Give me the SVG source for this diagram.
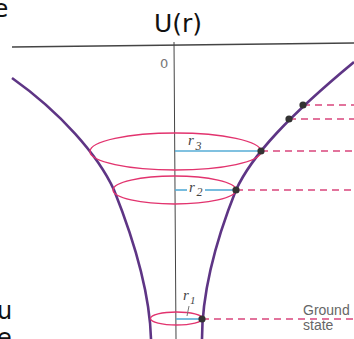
<svg xmlns="http://www.w3.org/2000/svg" width="354" height="339" viewBox="0 0 354 339">
<style>
.big{font-family:"DejaVu Sans",sans-serif;fill:#111}
.axis{stroke:#444;fill:none}
.curve{stroke:#5e3585;stroke-width:2.6;fill:none}
.ell{stroke:#e2336e;stroke-width:1.3;fill:none}
.rad{stroke:#56acd6;stroke-width:1.6}
.dash{stroke:#d9457c;stroke-width:1.5;stroke-dasharray:7 5}
.dot{fill:#333}
.rl{font-family:"Liberation Serif",serif;font-style:italic;fill:#444}
.gs{font-family:"Liberation Sans",Arial,sans-serif;font-size:14px;fill:#666}
</style>
<rect width="354" height="339" fill="#fff"/>
<text class="big" x="-7" y="17" font-size="25">e</text>
<text class="big" x="-3" y="319" font-size="24">u</text>
<text class="big" x="-3" y="346" font-size="24">e</text>
<g id="axes">
<line class="axis" x1="12" y1="47" x2="354" y2="43" stroke-width="1.5"/>
<line class="axis" x1="174" y1="42" x2="176" y2="339" stroke-width="1"/>
<text class="big" x="154" y="32" font-size="25">U(r)</text>
<text x="160" y="68" font-family="DejaVu Sans,sans-serif" font-size="13" fill="#777">0</text>
</g>
<g id="connectors">
<line class="dash" x1="303" y1="105" x2="354" y2="105"/>
<line class="dash" x1="289" y1="119" x2="354" y2="119"/>
<line class="dash" x1="261" y1="151" x2="354" y2="151"/>
<line class="dash" x1="236" y1="190" x2="354" y2="190"/>
<line class="dash" x1="202" y1="319" x2="354" y2="319"/>
</g>
<g id="potential">
<path class="curve" d="M202,339 C202,300 212,250 236,190 C252,155 290,115 354,62"/>
<path class="curve" d="M151,339 C150,300 138,250 114,190 C98,155 60,112 12,78"/>
</g>
<g id="level3">
<ellipse class="ell" cx="175.5" cy="151.5" rx="85.5" ry="18.5"/>
<line class="rad" x1="175" y1="151" x2="261" y2="151"/>
<text class="rl" x="188" y="145" font-size="15">r</text>
<text class="rl" x="195.5" y="150" font-size="12" font-style="normal">3</text>
<circle class="dot" cx="261" cy="151" r="3.6"/>
</g>
<g id="level2">
<ellipse class="ell" cx="174.5" cy="190" rx="61.5" ry="14"/>
<line class="rad" x1="175" y1="190" x2="187" y2="190"/>
<line class="rad" x1="205" y1="190" x2="236" y2="190"/>
<text class="rl" x="189" y="192" font-size="15">r</text>
<text class="rl" x="196.5" y="196" font-size="12" font-style="normal">2</text>
<circle class="dot" cx="236" cy="190" r="3.6"/>
</g>
<g id="level1">
<ellipse class="ell" cx="176.5" cy="318.5" rx="26" ry="6.5"/>
<line class="rad" x1="176" y1="319" x2="202" y2="319"/>
<line x1="189" y1="306" x2="187" y2="316" stroke="#777" stroke-width="1"/>
<text class="rl" x="183" y="300" font-size="15">r</text>
<text class="rl" x="190" y="304" font-size="11" font-style="normal">1</text>
<circle class="dot" cx="202" cy="319" r="3.6"/>
<text class="gs" x="303" y="315">Ground</text>
<text class="gs" x="303" y="330">state</text>
</g>
<g id="upper">
<circle class="dot" cx="289" cy="119" r="3.6"/>
<circle class="dot" cx="303" cy="105" r="3.6"/>
</g>
</svg>
